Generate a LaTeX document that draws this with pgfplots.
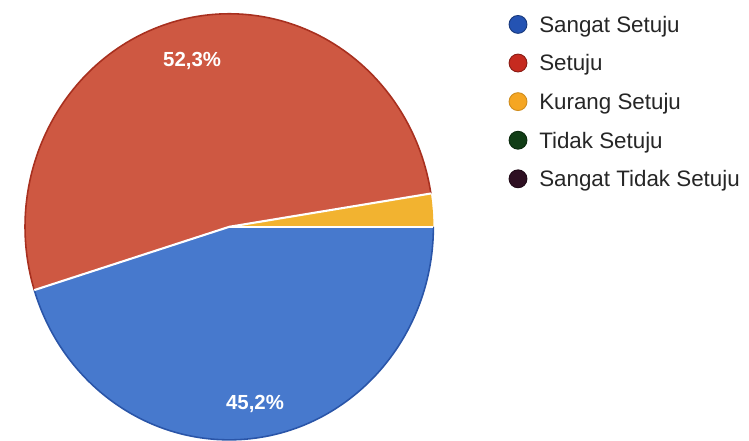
\documentclass[border=0pt]{standalone}
\usepackage{fontspec}
\setmainfont{Liberation Sans}
\usepackage{pgfplots}
\usepackage{pgfplotstable}
\pgfplotsset{compat=1.18}
\usetikzlibrary{calc}

\definecolor{pieblue}{HTML}{4779CD}
\definecolor{piebluedk}{HTML}{2A55A8}
\definecolor{piered}{HTML}{CE5842}
\definecolor{pieredk}{HTML}{A8301F}
\definecolor{pieorange}{HTML}{F2B330}
\definecolor{lgblue}{HTML}{2453B3}
\definecolor{lgred}{HTML}{C62A1F}
\definecolor{lgorange}{HTML}{F5A623}
\definecolor{lggreen}{HTML}{113D16}
\definecolor{lgmaroon}{HTML}{2E0F22}

% answers in percent, clockwise from 3 o'clock
\pgfplotstableread[col sep=comma]{
label,pct
Sangat Setuju,45.2
Setuju,52.3
Kurang Setuju,2.5
Tidak Setuju,0
Sangat Tidak Setuju,0
}\piedata

\pgfplotstablegetelem{0}{pct}\of\piedata \edef\pA{\pgfplotsretval}
\pgfplotstablegetelem{1}{pct}\of\piedata \edef\pB{\pgfplotsretval}
\pgfplotstablegetelem{2}{pct}\of\piedata \edef\pC{\pgfplotsretval}

\pgfmathsetmacro{\aZ}{0}
\pgfmathsetmacro{\aA}{\aZ-3.6*\pA}
\pgfmathsetmacro{\aB}{\aA-3.6*\pB}
\pgfmathsetmacro{\aC}{\aB-3.6*\pC}
\pgfmathsetmacro{\mA}{(\aZ+\aA)/2}
\pgfmathsetmacro{\mB}{(\aA+\aB)/2}

% pie centre and radii (picture units: 1 = 0.75pt)
\def\cx{222}
\def\cy{217}
\def\rx{155.25}
\def\ry{162}

\begin{document}
\begin{tikzpicture}
\begin{axis}[
    x=0.75pt, y=0.75pt,
    xmin=0, xmax=749, ymin=0, ymax=446,
    hide axis, clip=false,
    legend image code/.code={\draw[#1, line width=0.7pt] (0pt,6pt) circle (6.8pt);},
    legend style={draw=none, fill=none, at={(axis cs:505,432)}, anchor=north west,
        font=\fontsize{17}{19}\selectfont, text=black!85,
        row sep=14.7pt, column sep=9pt, inner sep=0pt,
        nodes={inner sep=0pt, anchor=base west}},
    legend cell align=left,
]
\path (axis cs:0,0) rectangle (axis cs:749,446);

% slices
\fill[pieblue] (axis cs:\cx,\cy) -- ++(\aZ:\rx pt and \ry pt) arc[start angle=\aZ, end angle=\aA, x radius=\rx pt, y radius=\ry pt] -- cycle;
\fill[piered] (axis cs:\cx,\cy) -- ++(\aA:\rx pt and \ry pt) arc[start angle=\aA, end angle=\aB, x radius=\rx pt, y radius=\ry pt] -- cycle;
\fill[pieorange] (axis cs:\cx,\cy) -- ++(\aB:\rx pt and \ry pt) arc[start angle=\aB, end angle=\aC, x radius=\rx pt, y radius=\ry pt] -- cycle;

% darker rims
\draw[piebluedk, line width=1.2pt] (axis cs:\cx,\cy) ++(\aZ:\rx pt and \ry pt) arc[start angle=\aZ, end angle=\aA, x radius=\rx pt, y radius=\ry pt];
\draw[pieredk, line width=1.2pt] (axis cs:\cx,\cy) ++(\aA:\rx pt and \ry pt) arc[start angle=\aA, end angle=\aB, x radius=\rx pt, y radius=\ry pt];

% white separators
\draw[white, line width=1.6pt] (axis cs:\cx,\cy) -- ++(\aZ:\rx pt and \ry pt);
\draw[white, line width=1.6pt] (axis cs:\cx,\cy) -- ++(\aA:\rx pt and \ry pt);
\draw[white, line width=1.6pt] (axis cs:\cx,\cy) -- ++(\aB:\rx pt and \ry pt);

% value labels
\node[text=white, font=\bfseries\fontsize{15.5}{17}\selectfont] at ($(axis cs:\cx,\cy)+(\mB:0.80*\rx pt and 0.80*\ry pt)$) {52,3\%};
\node[text=white, font=\bfseries\fontsize{15.5}{17}\selectfont] at ($(axis cs:\cx,\cy)+(\mA:0.84*\rx pt and 0.84*\ry pt)$) {45,2\%};

\addlegendimage{draw=lgblue!70!black, fill=lgblue}
\addlegendentry{Sangat Setuju}
\addlegendimage{draw=lgred!70!black, fill=lgred}
\addlegendentry{Setuju}
\addlegendimage{draw=lgorange!85!black, fill=lgorange}
\addlegendentry{Kurang Setuju}
\addlegendimage{draw=lggreen!70!black, fill=lggreen}
\addlegendentry{Tidak Setuju}
\addlegendimage{draw=lgmaroon!70!black, fill=lgmaroon}
\addlegendentry{Sangat Tidak Setuju}
\end{axis}
\end{tikzpicture}
\end{document}
